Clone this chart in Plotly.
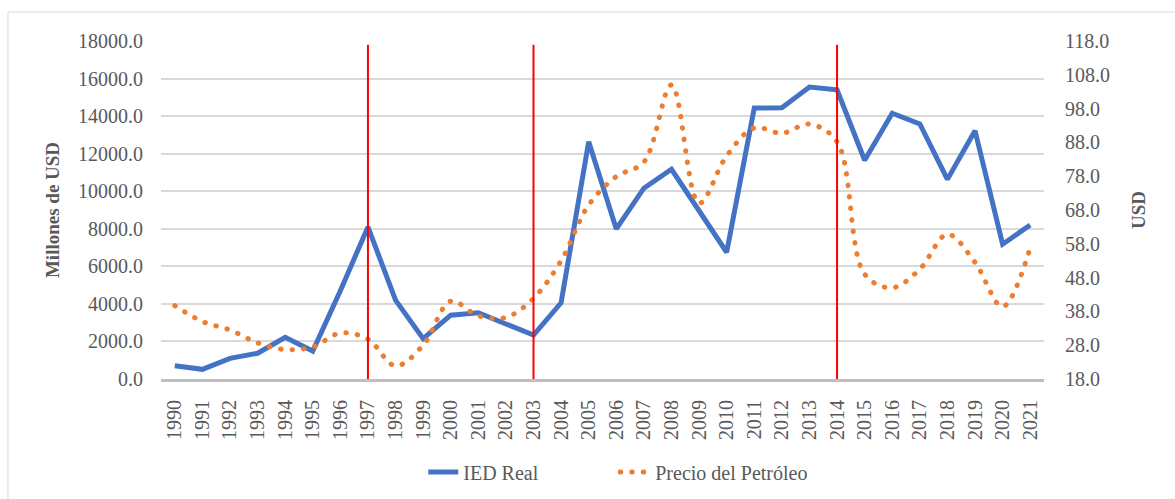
import plotly.graph_objects as go

years = ["1990", "1991", "1992", "1993", "1994", "1995", "1996", "1997", "1998", "1999",
         "2000", "2001", "2002", "2003", "2004", "2005", "2006", "2007", "2008", "2009",
         "2010", "2011", "2012", "2013", "2014", "2015", "2016", "2017", "2018", "2019",
         "2020", "2021"]

ied_real = [710, 515, 1100, 1370, 2220, 1490, 4700, 8100, 4200, 2150,
            3400, 3530, 2930, 2340, 4060, 12640, 7990, 10160, 11170, 9000,
            6750, 14430, 14450, 15550, 15400, 11650, 14150, 13580, 10630, 13220,
            7180, 8200]

precio_petroleo = [39.7, 35.0, 32.5, 28.7, 26.7, 27.5, 31.6, 29.8, 21.9, 28.0,
                   41.0, 36.7, 36.2, 41.9, 53.0, 69.5, 77.9, 82.2, 105.0, 70.0,
                   84.0, 92.3, 90.7, 93.4, 88.2, 49.0, 45.0, 50.5, 60.8, 52.5,
                   39.4, 56.8]

event_years = ["1997", "2003", "2014"]
event_top = 17800

left_ticks = [0, 2000, 4000, 6000, 8000, 10000, 12000, 14000, 16000, 18000]
right_ticks = [18, 28, 38, 48, 58, 68, 78, 88, 98, 108, 118]

FONT = "Liberation Serif"
GREY = "#595959"

fig = go.Figure()
fig.add_trace(go.Scatter(
    x=years, y=ied_real, name="IED Real", mode="lines",
    line=dict(color="#4472C4", width=5), yaxis="y"))
fig.add_trace(go.Scatter(
    x=years, y=precio_petroleo, name="Precio del Petróleo", mode="lines",
    line=dict(color="#ED7D31", width=5, dash="0.5px,11px", shape="spline", smoothing=1),
    yaxis="y2"))

for ev in event_years:
    idx = years.index(ev)
    fig.add_shape(type="line", xref="x", yref="y", x0=idx, x1=idx, y0=0, y1=event_top,
                  line=dict(color="#FF0000", width=2), layer="above")

# outer chart border
fig.add_shape(type="rect", xref="paper", yref="paper",
              x0=-0.1733, x1=1.2, y0=-0.5, y1=1.0858,
              line=dict(color="#D9D9D9", width=1), layer="below")

fig.update_layout(
    width=1175, height=499,
    margin=dict(l=161, r=131, t=41, b=120, autoexpand=False),
    paper_bgcolor="white", plot_bgcolor="white",
    font=dict(family=FONT, size=20, color=GREY),
    showlegend=True,
    legend=dict(orientation="h", x=0.297, xanchor="left", y=-0.275, yanchor="middle",
                font=dict(family=FONT, size=20, color=GREY),
                entrywidth=147, bgcolor="rgba(0,0,0,0)"),
    xaxis=dict(type="category", tickangle=-90, showgrid=False,
               showline=True, linecolor="#BFBFBF", linewidth=3,
               ticks="", ticklabelstandoff=10,
               tickfont=dict(family=FONT, size=20, color=GREY),
               range=[-0.5, len(years) - 0.5]),
    yaxis=dict(range=[0, 18000], tickvals=left_ticks, tickformat=".1f",
               showgrid=True, gridcolor="#D9D9D9", gridwidth=1.5,
               zeroline=False, showline=False, ticks="", ticklabelstandoff=17,
               tickfont=dict(family=FONT, size=20, color=GREY),
               title=dict(text="<b>Millones de USD</b>", standoff=13,
                          font=dict(family=FONT, size=19, color=GREY))),
    yaxis2=dict(range=[18, 118], tickvals=right_ticks, tickformat=".1f",
                overlaying="y", side="right", showgrid=False, zeroline=False,
                showline=False, ticks="", ticklabelstandoff=20,
                tickfont=dict(family=FONT, size=20, color=GREY),
                title=dict(text="<b>USD</b>", standoff=22,
                           font=dict(family=FONT, size=19, color=GREY))),
)

post = """
document.body.style.margin = '0';
document.body.style.padding = '0';
function roundCaps(){
  document.querySelectorAll('path.js-line').forEach(function(p){
    var d = p.style.strokeDasharray;
    if (d && d !== 'none' && d !== '') { p.style.strokeLinecap = 'round'; }
  });
}
roundCaps();
var gd = document.getElementsByClassName('plotly-graph-div')[0];
if (gd && gd.on) { gd.on('plotly_afterplot', roundCaps); }
"""

fig.write_html("out.html", post_script=post, config={"displayModeBar": False})
